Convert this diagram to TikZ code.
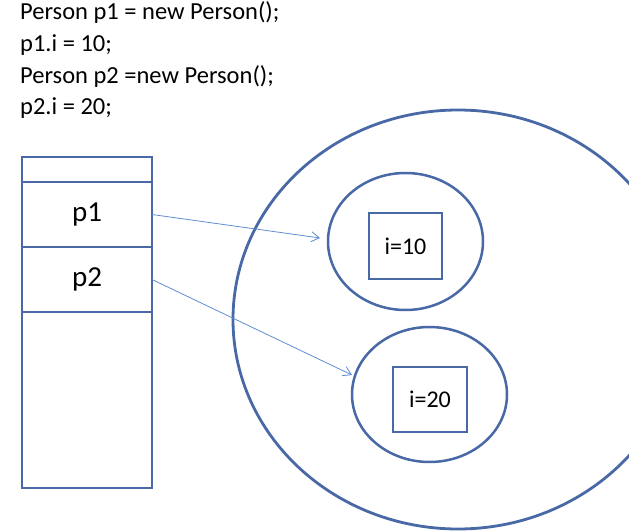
\documentclass[tikz,border=0pt]{standalone}
\usepackage{fontspec}
\setmainfont{Carlito}
\usetikzlibrary{positioning,shapes.geometric,arrows.meta}
\definecolor{heapblue}{RGB}{72,104,166}
\definecolor{refblue}{RGB}{96,140,210}
\tikzset{
    code/.style={anchor=base west, inner sep=0pt, font=\fontsize{24.5}{28}\selectfont},
    cell/.style={draw=heapblue, line width=2.8pt, minimum width=130pt, inner sep=0pt, outer sep=0pt, font=\fontsize{29}{32}\selectfont},
    obj/.style={ellipse, draw=heapblue, line width=2.5pt, inner sep=0pt},
    field/.style={draw=heapblue, line width=2.5pt, inner sep=0pt, font=\fontsize{24}{26}\selectfont},
    ref/.style={draw=refblue, line width=0.8pt, -{Straight Barb[length=8pt,width=10pt]}}
}
\begin{document}
\begin{tikzpicture}[x=1pt, y=-1pt]
    \useasboundingbox (0,0) rectangle (629,532);
    \clip (0,0) rectangle (629,532);
    % code lines
    \node[code] (line1) at (20,20) {Person p1 = new Person();};
    \node[code] (line2) at (20,52) {p1.i = 10;};
    \node[code] (line3) at (20,84) {Person p2 =new Person();};
    \node[code] (line4) at (20,115) {p2.i = 20;};
    % stack
    \node[cell, minimum height=25pt, anchor=north west] (top) at (22,157) {};
    \node[cell, minimum height=65pt, below=0pt of top] (p1cell) {p1};
    \node[cell, minimum height=65pt, below=0pt of p1cell] (p2cell) {p2};
    \node[cell, minimum height=176pt, below=0pt of p2cell] (rest) {};
    % heap
    \draw[heapblue, line width=2.8pt] (458,319.5) ellipse [x radius=225, y radius=209.5];
    \node[obj, minimum width=155pt, minimum height=137pt] (obj1) at (405.5,241.5) {};
    \node[obj, minimum width=155pt, minimum height=135pt] (obj2) at (429.5,394.5) {};
    \node[field, minimum width=73pt, minimum height=66pt] (i1) at (405.5,246) {i=10};
    \node[field, minimum width=74pt, minimum height=65pt] (i2) at (430,399.5) {i=20};
    % references
    \coordinate (tip1) at (320,238);
    \coordinate (tip2) at (352,375);
    \draw[ref] (p1cell.east) -- (tip1);
    \draw[ref] (p2cell.east) -- (tip2);
\end{tikzpicture}
\end{document}
